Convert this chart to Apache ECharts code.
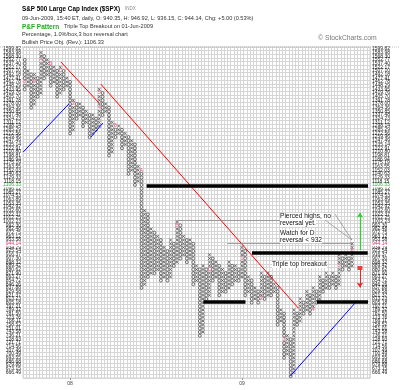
<!DOCTYPE html>
<html><head><meta charset="utf-8">
<script src="https://cdn.jsdelivr.net/npm/echarts@6/dist/echarts.min.js"></script>
<style>html,body{margin:0;padding:0;background:#fff}#c{width:400px;height:390px}</style>
</head><body><div id="c"></div>
<script>
// 1% box price levels, bottom to top
const boxes = [659.89,666.49,673.15,679.88,686.68,693.55,700.49,707.49,714.56,721.71,728.93,736.21,743.58,751.01,758.52,766.11,773.76,781.50,789.32,797.21,805.18,813.23,821.37,829.58,837.88,846.26,854.72,863.27,871.90,880.62,889.42,898.32,907.30,916.37,925.54,934.79,944.14,953.58,963.12,972.75,982.48,992.30,1002.23,1012.25,1022.37,1032.60,1042.92,1053.35,1063.89,1074.53,1085.27,1096.12,1107.08,1118.15,1129.33,1140.63,1152.03,1163.55,1175.19,1186.94,1198.81,1210.80,1222.91,1235.14,1247.49,1259.96,1272.56,1285.29,1298.14,1311.12,1324.23,1337.48,1350.85,1364.36,1378.00,1391.78,1405.70,1419.76,1433.95,1448.29,1462.78,1477.41,1492.18,1507.10,1522.17,1537.40,1552.77,1568.30,1583.98,1599.82];
// P&F columns: first column type and start, then each column's end price (alternating O / X)
const firstType = 'O';
const startPrice = 1552.77;
const pivots = [1433.95,1507.10,1364.36,1492.18,1405.70,1583.98,1477.41,1552.77,1448.29,1522.17,
 1405.70,1522.17,1433.95,1477.41,1272.56,1391.78,1324.23,1378.00,1298.14,1350.85,
 1259.96,1337.48,1285.29,1433.95,1337.48,1378.00,1198.81,1311.12,1259.96,1298.14,
 1222.91,1272.56,1140.63,1247.49,1107.08,1163.55,837.88,1032.60,863.27,982.48,
 871.90,963.12,854.72,934.79,854.72,953.58,889.42,1002.23,907.30,963.12,
 898.32,953.58,846.26,889.42,736.21,889.42,813.23,916.37,854.72,898.32,
 821.37,880.62,829.58,898.32,846.26,889.42,854.72,934.79,821.37,863.27,
 805.18,837.88,805.18,871.90,813.23,871.90,821.37,846.26,758.52,789.32,
 693.55,736.21,659.89,789.32,758.52,813.23,781.50,829.58,781.50,837.88,
 805.18,863.27,829.58,871.90,837.88,871.90,837.88,916.37,880.62,916.37,
 880.62,944.14];
// month markers (column, box price, label)
const markCols = [0,3,5,8,11,15,23,23,28,36,47,57,67,73,80,89,97,101];
const markPrices = [1462.78,1462.78,1552.77,1537.40,1507.10,1378.00,1364.36,1419.76,1298.14,1152.03,992.30,880.62,907.30,813.23,728.93,789.32,889.42,925.54];
const markLabels = ['8','9','A','B','C','2','4','5','8','A','B','C','1','2','3','4','5','6'];
// year ticks (column where year starts)
const yearCols = [14.5, 67.5];
const yearLabels = ['08', '09'];
const objectivePrice = 1106.33;
const lastPrice = 944.14;
const objectiveLabel = '1106.33';
const lastLabel = '944.14';

const TOTAL_COLS = 107;
const bi = p => { let b = 0; for (let j = 1; j < boxes.length; j++) if (Math.abs(boxes[j] - p) < Math.abs(boxes[b] - p)) b = j; return b; };
const markSet = {};
markCols.forEach((c, k) => { markSet[c + ':' + bi(markPrices[k])] = markLabels[k]; });
const xPts = [], oPts = [];
let type = firstType, from = bi(startPrice);
pivots.forEach((p, c) => {
  const to = bi(p);
  const lo = Math.min(from, to), hi = Math.max(from, to);
  for (let b = lo; b <= hi; b++) {
    if (markSet[c + ':' + b]) continue;
    (type === 'X' ? xPts : oPts).push([c + 0.5, b + 0.5]);
  }
  from = type === 'O' ? to + 1 : to - 1;
  type = type === 'O' ? 'X' : 'O';
});
const marks = markCols.map((c, k) => ({ value: [c + 0.5, bi(markPrices[k]) + 0.5], name: markLabels[k] }));
const objIdx = bi(objectivePrice), curIdx = bi(lastPrice);

// analyst overlays (column units, box units)
const overlays = [
  { c: [[11.7, 85.9], [23.4, 74.8]], color: '#ff0000', w: 1 },
  { c: [[24.0, 79.9], [84.9, 19.0]], color: '#ff0000', w: 1 },
  { c: [[0.0, 61.4], [14.1, 74.5]], color: '#0000ff', w: 1 },
  { c: [[20.9, 65.5], [24.6, 69.3]], color: '#0000ff', w: 1 },
  { c: [[82.4, 0.5], [102.4, 20.4]], color: '#0000ff', w: 1 },
  { c: [[38.1, 52.4], [106.4, 52.4]], color: '#000', w: 3.5 },
  { c: [[70.6, 34.0], [106.3, 34.0]], color: '#000', w: 3.5 },
  { c: [[55.6, 20.8], [68.6, 20.8]], color: '#000', w: 3.5 },
  { c: [[90.6, 20.8], [106.4, 20.8]], color: '#000', w: 3.5 },
  { c: [[47.7, 43.0], [79.3, 43.0]], color: '#8a8a8a', w: 0.8 },
  { c: [[63.0, 36.6], [101.6, 36.6]], color: '#8a8a8a', w: 0.8 }
];

const fmt = v => {
  if (v >= boxes.length) return '';
  if (v === objIdx) return '{g|' + objectiveLabel + '}';
  if (v === curIdx) return '{r|' + lastLabel + '}';
  return boxes[v].toFixed(2);
};
const yLabel = {
  fontSize: 5, color: '#222', margin: 2, padding: [0, 0, 3.7, 0], formatter: fmt, fontFamily: 'Liberation Sans',
  rich: {
    g: { color: '#22bb22', fontSize: 5, backgroundColor: '#fff', fontFamily: 'Liberation Sans' },
    r: { color: '#e8306a', fontSize: 5, backgroundColor: '#fff', fontFamily: 'Liberation Sans' }
  }
};
const chart = echarts.init(document.getElementById('c'));
const T = (x, y, text, size, color, weight, extra) => ({
  type: 'text', left: x, top: y, z: 100,
  style: Object.assign({ text, fontSize: size, fill: color, fontWeight: weight || 'normal', fontFamily: 'Liberation Sans', verticalAlign: 'middle' }, extra || {})
});
chart.setOption({
  animation: false,
  grid: { left: 22, right: 30, top: 47, bottom: 12, show: true, borderColor: '#b0b0b0', borderWidth: 0.6, backgroundColor: '#fff' },
  xAxis: [
    { type: 'value', min: 0, max: TOTAL_COLS, interval: 1, axisLine: { show: false }, axisTick: { show: false }, axisLabel: { show: false },
      splitLine: { show: true, lineStyle: { color: '#d6d6d6', width: 1 } } },
    { type: 'value', min: 0, max: TOTAL_COLS, position: 'bottom', axisLine: { show: false }, splitLine: { show: false },
      axisTick: { show: true, customValues: yearCols, length: 2, lineStyle: { color: '#999' } },
      axisLabel: { show: true, customValues: yearCols, formatter: v => yearLabels[yearCols.indexOf(v)], fontSize: 5, color: '#444', margin: 3, fontFamily: 'Liberation Sans' } }
  ],
  yAxis: [
    { type: 'value', position: 'left', min: 0, max: boxes.length, interval: 1, axisLine: { show: false }, axisTick: { show: false },
      splitLine: { show: true, lineStyle: { color: '#d6d6d6', width: 1 } }, axisLabel: yLabel },
    { type: 'value', position: 'right', min: 0, max: boxes.length, interval: 1, axisLine: { show: false }, axisTick: { show: false },
      splitLine: { show: false }, axisLabel: yLabel }
  ],
  series: [
    { type: 'scatter', data: xPts, symbol: 'path://M0 0L10 10M10 0L0 10', symbolSize: [2.8, 3.1], silent: true, z: 3,
      itemStyle: { color: 'rgba(0,0,0,0)', borderColor: '#444', borderWidth: 0.9 } },
    { type: 'scatter', data: oPts, symbol: 'circle', symbolSize: [2.8, 3.1], silent: true, z: 3,
      itemStyle: { color: 'rgba(0,0,0,0)', borderColor: '#444', borderWidth: 0.9 } },
    { type: 'scatter', data: marks, symbolSize: 1, silent: true, z: 4, itemStyle: { color: 'rgba(0,0,0,0)' },
      label: { show: true, position: 'inside', formatter: p => p.name, fontSize: 5, color: '#e0507a', fontWeight: 'bold', fontFamily: 'Liberation Sans' } },
    { type: 'lines', coordinateSystem: 'cartesian2d', silent: true, z: 5,
      data: overlays.map(o => ({ coords: o.c, lineStyle: { color: o.color, width: o.w, opacity: 1 } })) },
    { type: 'lines', coordinateSystem: 'cartesian2d', silent: true, z: 6, symbol: ['none', 'arrow'], symbolSize: 5,
      data: [{ coords: [[103.9, 34.8], [103.9, 44.9]], lineStyle: { color: '#33cc33', width: 1.3, opacity: 1 } }] },
    { type: 'lines', coordinateSystem: 'cartesian2d', silent: true, z: 6, symbol: ['none', 'arrow'], symbolSize: 5,
      data: [{ coords: [[103.9, 29.4], [103.9, 24.6]], lineStyle: { color: '#ee2222', width: 1, opacity: 1 } }] },
    { type: 'scatter', data: [[103.9, 29.9]], symbol: 'rect', symbolSize: [5, 4], silent: true, z: 6, itemStyle: { color: '#ee1111' } }
  ],
  graphic: [
    { type: 'line', z: 100, shape: { x1: 0, y1: 47, x2: 400, y2: 47 }, style: { stroke: '#999', lineWidth: 0.6, lineDash: [1, 1] } },
    T(22, 6, 'S&P 500 Large Cap Index ($SPX)', 6.3, '#000', 'bold'),
    T(125, 6.5, 'INDX', 4.5, '#888'),
    T(22, 15, '09-Jun-2009, 15:40 ET, daily, O: 940.35, H: 946.92, L: 936.15, C: 944.14, Chg: +5.00 (0.53%)', 5.6, '#333'),
    T(22, 23.3, 'P&F Pattern', 6.5, '#22aa22', 'bold'),
    T(64, 23.5, 'Triple Top Breakout on 01-Jun-2009', 5.6, '#333'),
    T(22, 31, 'Percentage, 1.0%/box,3 box reversal chart', 5.6, '#333'),
    T(22, 39, 'Bullish Price Obj. (Rev.): 1106.33', 5.6, '#333'),
    T(318, 34.5, '\u00a9 StockCharts.com', 6.8, '#777'),
    { type: 'line', z: 100, shape: { x1: 335, y1: 214, x2: 352, y2: 240 }, style: { stroke: '#777', lineWidth: 0.6 } },
    { type: 'line', z: 100, shape: { x1: 325, y1: 220, x2: 352, y2: 240 }, style: { stroke: '#777', lineWidth: 0.6 } },
    T(280, 213, 'Pierced highs, no', 6.6, '#111', 'normal', { backgroundColor: '#fff' }),
    T(280, 219.7, 'reversal yet.', 6.6, '#111', 'normal', { backgroundColor: '#fff' }),
    T(280, 229.7, 'Watch for D', 6.6, '#111', 'normal', { backgroundColor: '#fff' }),
    T(280, 236.4, 'reversal < 932', 6.6, '#111', 'normal', { backgroundColor: '#fff' }),
    T(272, 261, 'Triple top breakout', 6.6, '#111', 'normal', { backgroundColor: '#fff' })
  ]
});
</script></body></html>
